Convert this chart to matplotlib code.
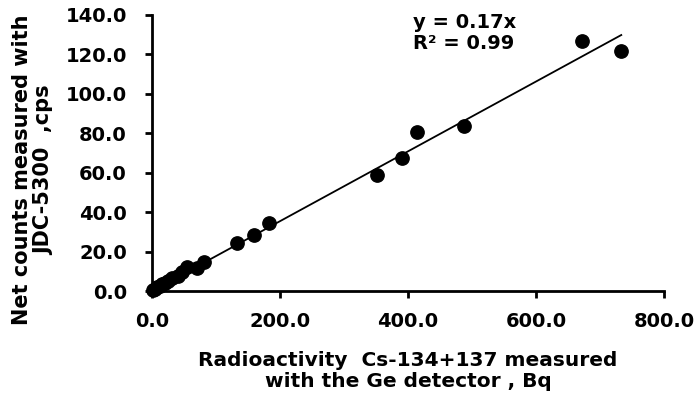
import matplotlib.pyplot as plt
import numpy as np

# Ge detector activity (Bq) vs JDC-5300 net counts (cps)
activity = [2, 5, 8, 12, 16, 20, 25, 31, 40, 47, 55, 70, 81,
            133, 159, 183, 352, 391, 414, 488, 672, 733]
counts = [0.5, 1.0, 1.8, 2.5, 3.4, 4.2, 5.0, 6.5, 7.8, 9.6, 12.2, 11.8, 14.8,
          24.5, 28.6, 34.3, 58.8, 67.5, 80.6, 83.6, 127.0, 121.8]

x = np.array(activity, dtype=float)
y = np.array(counts, dtype=float)
slope = (x * y).sum() / (x * x).sum()  # trendline through origin

plt.rcParams['font.family'] = 'DejaVu Sans'
plt.rcParams['font.weight'] = 'bold'

fig = plt.figure(figsize=(6.94, 3.94), dpi=100)
ax = fig.add_axes([0.219, 0.2614, 0.738, 0.7006])

xs = np.array([0, x.max()])
ax.plot(xs, slope * xs, color='black', lw=1.3, zorder=2)
ax.scatter(x, y, s=92, color='black', zorder=3, clip_on=False)

ax.set_xlim(0, 800)
ax.set_ylim(0, 140)
ax.set_xticks(np.arange(0, 801, 200))
ax.set_yticks(np.arange(0, 141, 20))
ax.set_xticklabels(['%.1f' % v for v in np.arange(0, 801, 200)])
ax.set_yticklabels(['%.1f' % v for v in np.arange(0, 141, 20)])
ax.tick_params(axis='both', labelsize=14, width=2, length=5, direction='out')
ax.tick_params(axis='y', pad=13)
ax.tick_params(axis='x', pad=10)
for lab in ax.get_xticklabels() + ax.get_yticklabels():
    lab.set_fontweight('bold')

for s in ['top', 'right']:
    ax.spines[s].set_visible(False)
for s in ['left', 'bottom']:
    ax.spines[s].set_linewidth(2)

ax.set_xlabel('Radioactivity  Cs-134+137 measured\nwith the Ge detector , Bq',
              fontsize=14.5, fontweight='bold', linespacing=1.15)
ax.xaxis.label.set_verticalalignment('center')
ax.xaxis.set_label_coords(0.5, -0.29)

ax.set_ylabel('Net counts measured with\nJDC-5300  ,cps',
              fontsize=15, fontweight='bold', linespacing=1.15)
ax.yaxis.label.set_verticalalignment('center')
ax.yaxis.set_label_coords(-0.232, 0.438)

ax.text(408, 141, 'y = 0.17x\nR² = 0.99', fontsize=14, fontweight='bold',
        va='top', ha='left', linespacing=1.1)

fig.savefig('out.png', dpi=100)
